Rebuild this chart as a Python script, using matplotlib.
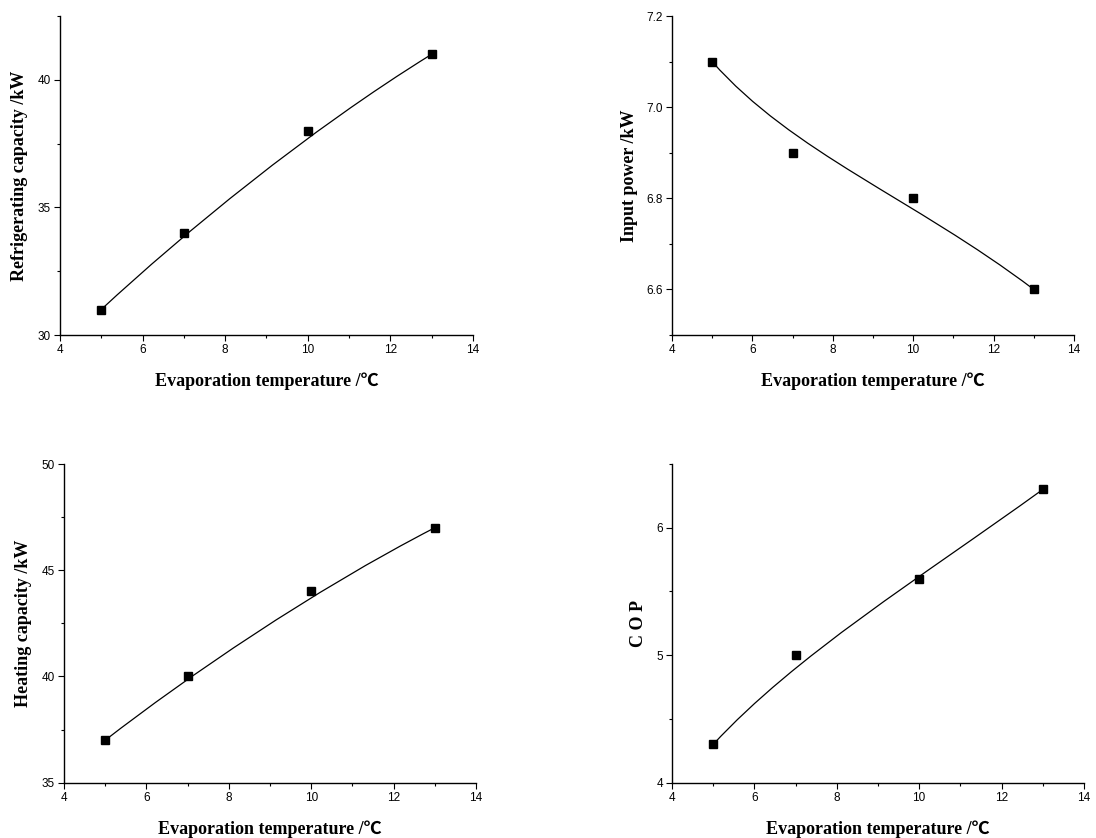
import matplotlib
matplotlib.use('Agg')
import matplotlib.pyplot as plt
from matplotlib.path import Path
from matplotlib.patches import PathPatch
from matplotlib.ticker import MultipleLocator

# evaporation temperature (deg C)
evap_temp = [5, 7, 10, 13]

refrigerating_capacity = [31, 34, 38, 41]
input_power = [7.1, 6.9, 6.8, 6.6]
heating_capacity = [37, 40, 44, 47]
cop = [4.3, 5.0, 5.6, 6.3]

xlabel = 'Evaporation temperature /\u2103'
ylabels = ['Refrigerating capacity /kW', 'Input power /kW',
           'Heating capacity /kW', 'C O P']

label_font = dict(family=['Liberation Serif', 'Noto Sans CJK SC', 'DejaVu Sans'],
                  weight='bold', size=13)

plt.rcParams['font.family'] = ['Liberation Sans', 'DejaVu Sans']

fig = plt.figure(figsize=(10.96, 8.38), dpi=100)

# axes boxes in figure fraction: left, bottom, width, height
boxes = [
    [0.0547, 0.6002, 0.3768, 0.3807],
    [0.6131, 0.6002, 0.3668, 0.3807],
    [0.0584, 0.0660, 0.3759, 0.3803],
    [0.6131, 0.0660, 0.3759, 0.3803],
]
series = [refrigerating_capacity, input_power, heating_capacity, cop]
ylims = [(30, 42.5), (6.5, 7.2), (35, 50), (4, 6.5)]
ymajor = [5, 0.2, 5, 1]
ylabelpad = [7, 6, 7, 7]

for box, ys, ylim, ym, yl, pad in zip(boxes, series, ylims, ymajor, ylabels, ylabelpad):
    ax = fig.add_axes(box)
    # B-spline style smooth curve using the points as bezier control points
    verts = list(zip(evap_temp, ys))
    codes = [Path.MOVETO, Path.CURVE4, Path.CURVE4, Path.CURVE4]
    ax.add_patch(PathPatch(Path(verts, codes), facecolor='none',
                           edgecolor='black', lw=0.9))
    ax.plot(evap_temp, ys, linestyle='none', marker='s', markersize=6,
            color='black')

    ax.set_xlim(4, 14)
    ax.set_ylim(*ylim)
    ax.xaxis.set_major_locator(MultipleLocator(2))
    ax.xaxis.set_minor_locator(MultipleLocator(1))
    ax.yaxis.set_major_locator(MultipleLocator(ym))
    ax.yaxis.set_minor_locator(MultipleLocator(ym / 2))
    if ym == 0.2:
        ax.yaxis.set_major_formatter(plt.FormatStrFormatter('%.1f'))

    for s in ['top', 'right']:
        ax.spines[s].set_visible(False)
    for s in ['left', 'bottom']:
        ax.spines[s].set_linewidth(1.0)
    ax.tick_params(which='major', direction='out', length=4, width=0.8,
                   labelsize=8.5, pad=2.5)
    ax.tick_params(which='minor', direction='out', length=2.5, width=0.8)

    ax.set_xlabel(xlabel, labelpad=12, **label_font)
    ax.set_ylabel(yl, labelpad=pad, **label_font)

fig.savefig('out.png', dpi=100)
